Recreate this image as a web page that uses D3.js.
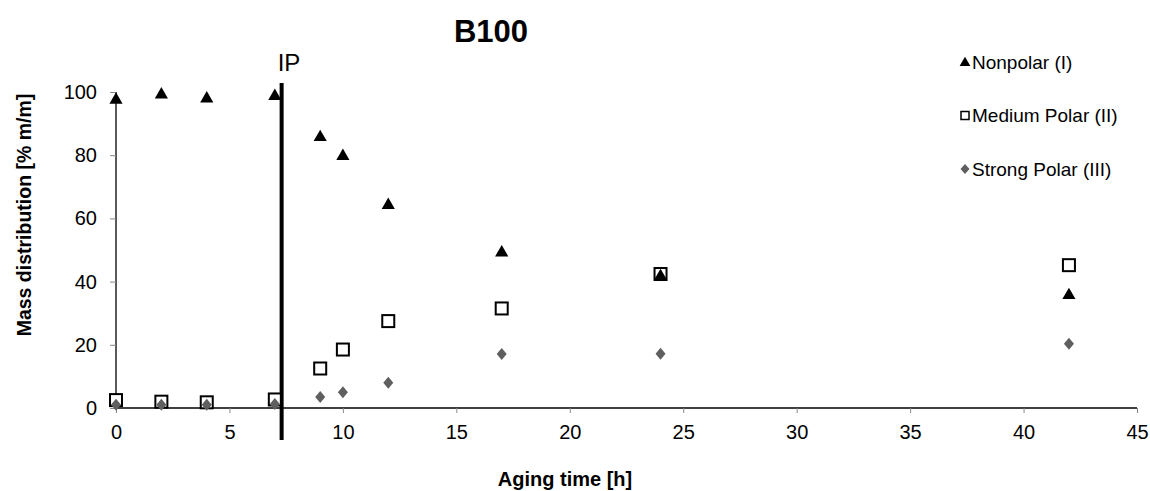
<!DOCTYPE html>
<html>
<head>
<meta charset="utf-8">
<script src="https://cdn.jsdelivr.net/npm/d3@7"></script>
<style>
  body { margin: 0; background: #fff; }
  text { font-family: "Liberation Sans", Arial, sans-serif; }
</style>
</head>
<body>
<div id="chart"></div>
<script>
const hours = [0, 2, 4, 7, 9, 10, 12, 17, 24, 42];
const nonpolar = [97.8, 99.5, 98.2, 99, 86, 80, 64.5, 49.5, 42, 36];
const mediumPolar = [2.5, 2, 1.8, 2.7, 12.5, 18.5, 27.5, 31.5, 42.4, 45.2];
const strongPolar = [1, 1, 1, 1.3, 3.5, 5, 8, 17.1, 17.2, 20.3];
const xTicks = [0, 5, 10, 15, 20, 25, 30, 35, 40, 45];
const yTicks = [0, 20, 40, 60, 80, 100];
const ipTime = 7.3;

const width = 1150, height = 491;
const margin = { top: 92, right: 13, bottom: 83, left: 116 };

const svg = d3.select("#chart").append("svg")
  .attr("width", width).attr("height", height);

const x = d3.scaleLinear().domain([0, 45]).range([margin.left, width - margin.right]);
const y = d3.scaleLinear().domain([0, 100]).range([height - margin.bottom, margin.top]);

// axes
const xAxis = svg.append("g")
  .attr("transform", `translate(0,${y(0)})`)
  .call(d3.axisBottom(x).tickValues(xTicks).tickSize(5).tickPadding(12));
const yAxis = svg.append("g")
  .attr("transform", `translate(${x(0)},0)`)
  .call(d3.axisLeft(y).tickValues(yTicks).tickSize(6).tickPadding(13));

[xAxis, yAxis].forEach(a => {
  a.select(".domain").attr("stroke", "#000").attr("stroke-width", 1.3);
  a.selectAll(".tick line").attr("stroke", "#888");
  a.selectAll(".tick text").attr("font-size", 20).attr("fill", "#000")
    .attr("font-family", "Liberation Sans, Arial, sans-serif");
});
xAxis.select(".domain").attr("d", `M${x(0)},0H${x(45)}`);
yAxis.select(".domain").attr("d", `M0,${y(0)}V${y(100)}`);

// IP line
svg.append("line")
  .attr("x1", x(ipTime)).attr("x2", x(ipTime))
  .attr("y1", 83).attr("y2", 440)
  .attr("stroke", "#000").attr("stroke-width", 4);
svg.append("text")
  .attr("x", x(ipTime) - 4).attr("y", 71)
  .attr("font-family", "Open Sans, DejaVu Sans, sans-serif")
  .attr("font-size", 24).text("IP");

// markers
const tri = d3.symbol().type(d3.symbolTriangle).size(75);
const diamond = "M0,-6L5,0L0,6L-5,0Z";

function drawTri(g, cx, cy) {
  g.append("path").attr("d", tri()).attr("transform", `translate(${cx},${cy + 1})`).attr("fill", "#000");
}
function drawSquare(g, cx, cy) {
  g.append("rect").attr("x", cx - 6).attr("y", cy - 6).attr("width", 12).attr("height", 12)
    .attr("fill", "#fff").attr("stroke", "#000").attr("stroke-width", 2);
}
function drawDiamond(g, cx, cy) {
  g.append("path").attr("d", diamond).attr("transform", `translate(${cx},${cy})`).attr("fill", "#5f5f5f");
}

const pts = svg.append("g");
hours.forEach((h, i) => drawSquare(pts, x(h), y(mediumPolar[i])));
hours.forEach((h, i) => drawTri(pts, x(h), y(nonpolar[i])));
hours.forEach((h, i) => drawDiamond(pts, x(h), y(strongPolar[i])));

// title and labels
svg.append("text").attr("x", 491).attr("y", 42).attr("text-anchor", "middle")
  .attr("font-size", 31).attr("font-weight", "bold").text("B100");
svg.append("text").attr("x", 565).attr("y", 486).attr("text-anchor", "middle")
  .attr("font-size", 20).attr("font-weight", "bold").text("Aging time [h]");
svg.append("text").attr("transform", `translate(31,215) rotate(-90)`)
  .attr("text-anchor", "middle").attr("font-size", 19.5).attr("font-weight", "bold")
  .text("Mass distribution [% m/m]");

// legend
const legendItems = [
  { label: "Nonpolar (I)", kind: "tri" },
  { label: "Medium Polar (II)", kind: "square" },
  { label: "Strong Polar (III)", kind: "diamond" }
];
const lg = svg.append("g");
legendItems.forEach((d, i) => {
  const cy = 62 + i * 53.5;
  if (d.kind === "square") {
    lg.append("rect").attr("x", 961).attr("y", cy - 4).attr("width", 8).attr("height", 8)
      .attr("fill", "#fff").attr("stroke", "#000").attr("stroke-width", 1.5);
  } else if (d.kind === "tri") {
    lg.append("path").attr("d", d3.symbol().type(d3.symbolTriangle).size(50)())
      .attr("transform", `translate(965,${cy + 1})`).attr("fill", "#000");
  } else {
    lg.append("path").attr("d", "M0,-5L4.5,0L0,5L-4.5,0Z")
      .attr("transform", `translate(965,${cy})`).attr("fill", "#5f5f5f");
  }
  lg.append("text").attr("x", 972).attr("y", cy + 6.5).attr("font-size", 19).text(d.label);
});
</script>
</body>
</html>
